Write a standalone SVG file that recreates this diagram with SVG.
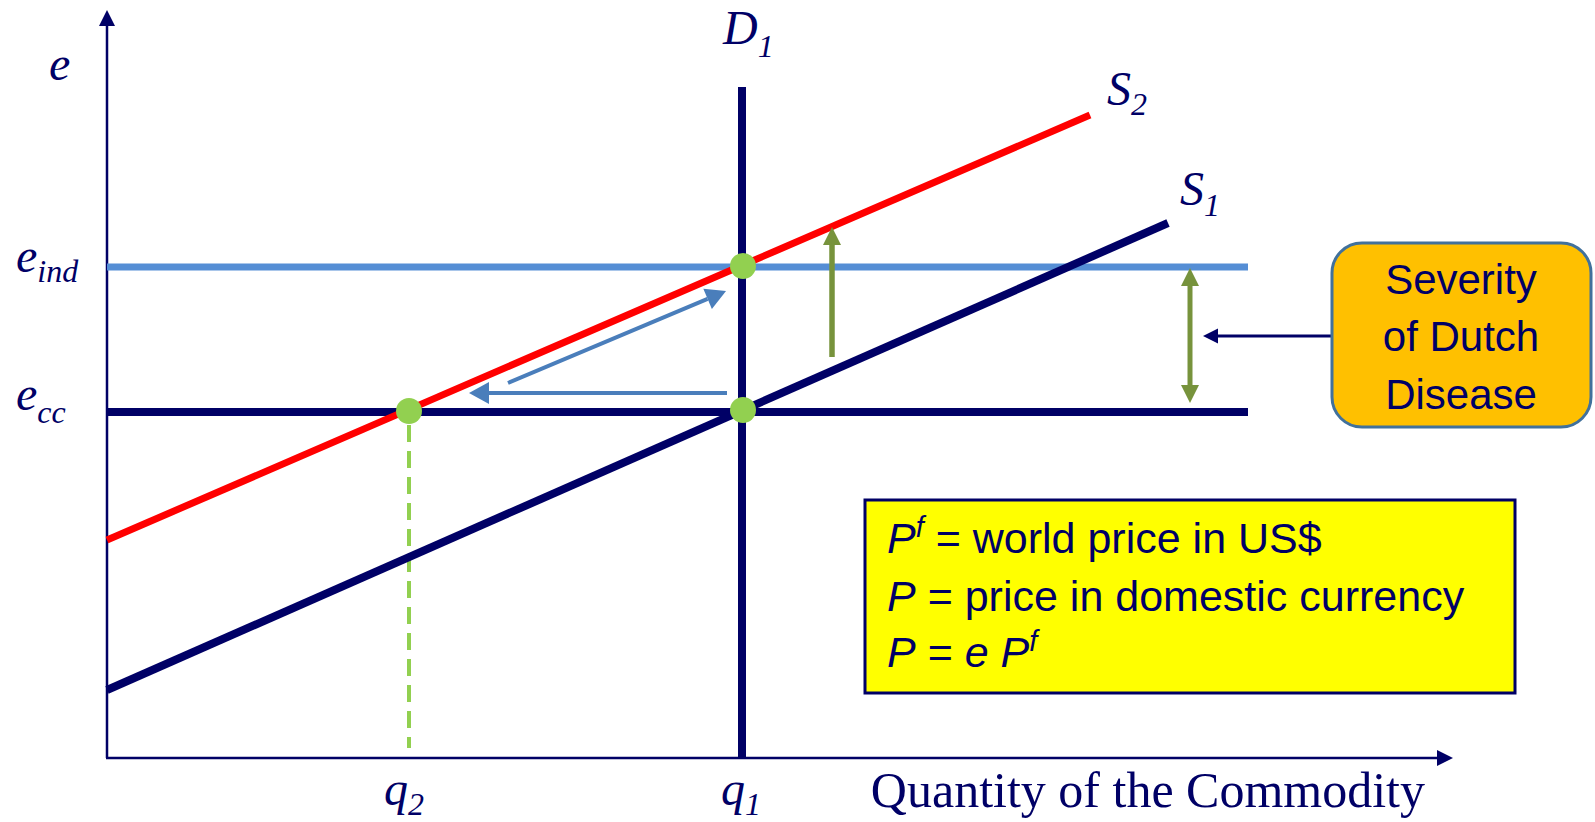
<svg xmlns="http://www.w3.org/2000/svg" width="1595" height="822" viewBox="0 0 1595 822">
<style>
.math{font-family:"Liberation Serif","DejaVu Serif",serif;font-style:italic;fill:#000066;font-size:48px}
.sub{font-size:32px}
.axislbl{font-family:"Liberation Serif",serif;fill:#000066;font-size:50px}
.sans{font-family:"Liberation Sans",Arial,sans-serif;fill:#000066}
.navy{stroke:#000066;fill:none}
.dot{fill:#92D050}
</style>
<defs>
<marker id="mAxis" markerUnits="userSpaceOnUse" markerWidth="16" markerHeight="16" refX="0" refY="8" orient="auto" overflow="visible"><path d="M0,0 L16,8 L0,16 z" fill="#000066"/></marker>
<marker id="mBlue" markerUnits="userSpaceOnUse" markerWidth="20" markerHeight="22" refX="0" refY="11" orient="auto" overflow="visible"><path d="M0,0 L20,11 L0,22 z" fill="#4A7EBB"/></marker>
<marker id="mGreen" markerUnits="userSpaceOnUse" markerWidth="18" markerHeight="18" refX="0" refY="9" orient="auto-start-reverse" overflow="visible"><path d="M0,0 L18,9 L0,18 z" fill="#77933C"/></marker>
<marker id="mNavy" markerUnits="userSpaceOnUse" markerWidth="15" markerHeight="15" refX="0" refY="7.5" orient="auto" overflow="visible"><path d="M0,0 L15,7.5 L0,15 z" fill="#000066"/></marker>
</defs>
<rect width="1595" height="822" fill="#ffffff"/>

<g id="axes">
<path class="navy" stroke-width="2.5" d="M107,758 L107,26" marker-end="url(#mAxis)"/>
<path class="navy" stroke-width="2.5" d="M106,758 L1437,758" marker-end="url(#mAxis)"/>
</g>

<g id="e-ind-line"><line x1="107" y1="267" x2="1248" y2="267" stroke="#558ED5" stroke-width="7"/></g>
<g id="e-cc-line"><line x1="107" y1="412" x2="1248" y2="412" stroke="#000066" stroke-width="8"/></g>
<g id="q2-dashed"><line x1="409" y1="425" x2="409" y2="748" stroke="#92D050" stroke-width="4" stroke-dasharray="17,9"/></g>
<g id="S1"><line x1="107" y1="690" x2="1168" y2="223" stroke="#000066" stroke-width="8"/></g>
<g id="D1"><line x1="742" y1="87" x2="742" y2="759" stroke="#000066" stroke-width="8"/></g>
<g id="S2"><line x1="107" y1="540" x2="1090" y2="115" stroke="#FF0000" stroke-width="7"/></g>

<g id="connectors">
<path d="M508,383 L707.6,298.8" stroke="#4A7EBB" stroke-width="4" fill="none" marker-end="url(#mBlue)"/>
<path d="M727,393 L489,393" stroke="#4A7EBB" stroke-width="4" fill="none" marker-end="url(#mBlue)"/>
<path d="M832,357 L832,245" stroke="#77933C" stroke-width="5.5" fill="none" marker-end="url(#mGreen)"/>
<path d="M1190,286 L1190,385" stroke="#77933C" stroke-width="5" fill="none" marker-start="url(#mGreen)" marker-end="url(#mGreen)"/>
<path d="M1332,336 L1218,336" stroke="#000066" stroke-width="3" fill="none" marker-end="url(#mNavy)"/>
</g>

<g id="dot-q2"><circle class="dot" cx="409" cy="411" r="13"/></g>
<g id="dot-q1"><circle class="dot" cx="743" cy="410" r="13"/></g>
<g id="dot-eind"><circle class="dot" cx="743" cy="266" r="13"/></g>

<g id="label-e"><text class="math" x="49" y="80">e</text></g>
<g id="label-eind"><text class="math" x="16" y="272">e<tspan class="sub" dy="10">ind</tspan></text></g>
<g id="label-ecc"><text class="math" x="16" y="410">e<tspan class="sub" dy="13">cc</tspan></text></g>
<g id="label-D1"><text class="math" x="723" y="44">D<tspan class="sub" dy="13">1</tspan></text></g>
<g id="label-S2"><text class="math" x="1107" y="105">S<tspan class="sub" dy="10">2</tspan></text></g>
<g id="label-S1"><text class="math" x="1180" y="205">S<tspan class="sub" dy="11">1</tspan></text></g>
<g id="label-q2"><text class="math" x="384" y="805">q<tspan class="sub" dy="10">2</tspan></text></g>
<g id="label-q1"><text class="math" x="721" y="805">q<tspan class="sub" dy="10">1</tspan></text></g>
<g id="label-x"><text class="axislbl" x="1425" y="807" text-anchor="end">Quantity of the Commodity</text></g>

<g id="severity-box">
<rect x="1332" y="243" width="259" height="184" rx="30" ry="30" fill="#FFC000" stroke="#41719C" stroke-width="3"/>
<text class="sans" font-size="42" text-anchor="middle"><tspan x="1461" y="294">Severity</tspan><tspan x="1461" y="351">of Dutch</tspan><tspan x="1461" y="409">Disease</tspan></text>
</g>

<g id="price-box">
<rect x="865" y="500" width="650" height="193" fill="#FFFF00" stroke="#000066" stroke-width="3"/>
<text class="sans" font-size="43" x="887" y="553"><tspan font-style="italic">P</tspan><tspan font-style="italic" font-size="29" dy="-16">f</tspan><tspan dy="16"> = world price in US$</tspan></text>
<text class="sans" font-size="43" x="887" y="611"><tspan font-style="italic">P</tspan> = price in domestic currency</text>
<text class="sans" font-size="43" x="887" y="667"><tspan font-style="italic">P</tspan> = <tspan font-style="italic">e P</tspan><tspan font-style="italic" font-size="29" dy="-16">f</tspan></text>
</g>
</svg>
